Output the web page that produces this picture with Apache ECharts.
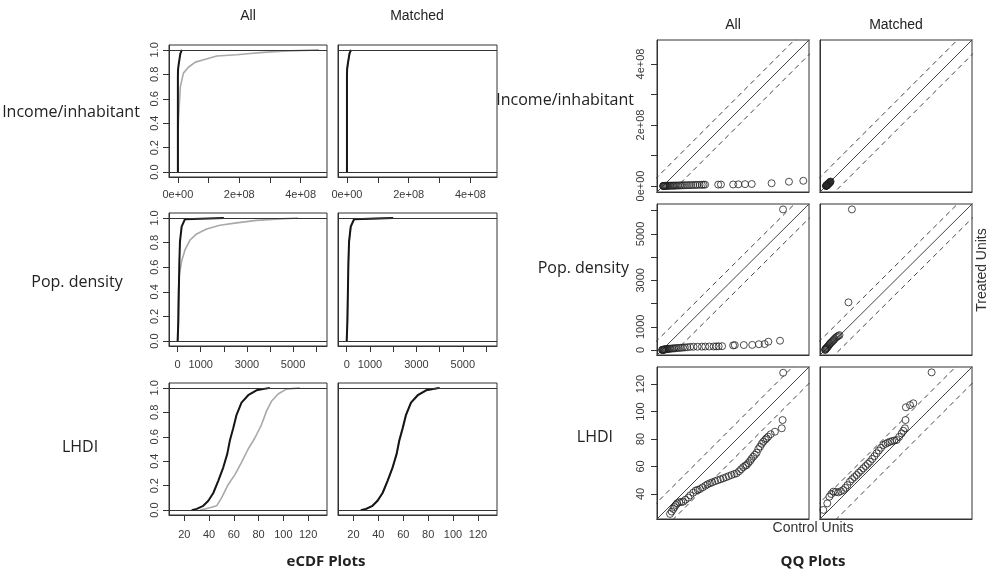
<!DOCTYPE html>
<html><head><meta charset="utf-8">
<script src="https://cdn.jsdelivr.net/npm/echarts@6/dist/echarts.min.js"></script>
<style>html,body{margin:0;padding:0;background:#fff}#c{width:989px;height:576px}</style>
</head><body><div id="c"></div>
<script>
// ---------- eCDF data (x values, cumulative proportion) ----------
const ecdfIncAllTreatedX = [0, 0, 500000, 3000000, 8000000, 13000000];
const ecdfIncAllTreatedF = [0, 0.78, 0.84, 0.89, 0.97, 1.0];
const ecdfIncAllControlX = [0, 0, 2e6, 8e6, 18e6, 35e6, 57e6, 84e6, 127e6, 192e6, 236e6, 279e6, 345e6, 459e6];
const ecdfIncAllControlF = [0, 0.29, 0.44, 0.70, 0.81, 0.86, 0.90, 0.92, 0.95, 0.96, 0.97, 0.98, 0.99, 1.0];
const ecdfIncMatTreatedX = [0, 0, 500000, 3000000, 8000000, 13000000];
const ecdfIncMatTreatedF = [0, 0.78, 0.84, 0.89, 0.97, 1.0];
const ecdfIncMatControlX = [0, 0, 1e6, 4e6, 9e6, 14e6];
const ecdfIncMatControlF = [0, 0.76, 0.85, 0.90, 0.97, 1.0];

const ecdfPopAllTreatedX = [0, 29, 72, 101, 173, 317, 2000];
const ecdfPopAllTreatedF = [0, 0.16, 0.63, 0.81, 0.93, 0.99, 1.0];
const ecdfPopAllControlX = [0, 30, 72, 173, 317, 533, 821, 1254, 1830, 2550, 3415, 4280, 5216];
const ecdfPopAllControlF = [0, 0.40, 0.54, 0.65, 0.74, 0.82, 0.87, 0.91, 0.94, 0.96, 0.98, 0.99, 1.0];
const ecdfPopMatTreatedX = [0, 29, 72, 101, 173, 317, 2000];
const ecdfPopMatTreatedF = [0, 0.16, 0.63, 0.81, 0.93, 0.99, 1.0];
const ecdfPopMatControlX = [0, 25, 70, 105, 180, 330, 2000];
const ecdfPopMatControlF = [0, 0.15, 0.62, 0.80, 0.93, 0.99, 1.0];

const ecdfLhdiAllTreatedX = [25.9, 30, 35.3, 39.4, 43.4, 47.4, 51.5, 54.7, 56.8, 59.5, 62.2, 66.2, 71.6, 78.3, 89.1];
const ecdfLhdiAllTreatedF = [0, 0.01, 0.035, 0.076, 0.14, 0.24, 0.35, 0.46, 0.57, 0.67, 0.78, 0.88, 0.94, 0.98, 1.0];
const ecdfLhdiAllControlX = [32.6, 40.7, 46.1, 50.1, 55.5, 60.9, 66.2, 71.6, 77.0, 82.4, 86.4, 90.4, 95.8, 102.5, 113.3];
const ecdfLhdiAllControlF = [0, 0.02, 0.035, 0.10, 0.21, 0.29, 0.39, 0.50, 0.59, 0.70, 0.81, 0.89, 0.95, 0.99, 1.0];
const ecdfLhdiMatTreatedX = [25.9, 30, 35.3, 39.4, 43.4, 47.4, 51.5, 54.7, 56.8, 59.5, 62.2, 66.2, 71.6, 78.3, 89.1];
const ecdfLhdiMatTreatedF = [0, 0.01, 0.035, 0.076, 0.14, 0.24, 0.35, 0.46, 0.57, 0.67, 0.78, 0.88, 0.94, 0.98, 1.0];
const ecdfLhdiMatControlX = [27, 31, 36, 40, 44, 48, 51.8, 55, 57, 59.8, 62.5, 66.5, 72, 79, 89.5];
const ecdfLhdiMatControlF = [0, 0.01, 0.04, 0.09, 0.15, 0.25, 0.36, 0.47, 0.57, 0.67, 0.78, 0.88, 0.94, 0.98, 1.0];

// ---------- QQ data (control quantile x, treated quantile y) ----------
const qqIncAllX = [0.5e6,1e6,2e6,3e6,5e6,7e6,9e6,11e6,14e6,17e6,20e6,24e6,28e6,32e6,36e6,40e6,45e6,50e6,55e6,60e6,66e6,72e6,78e6,85e6,92e6,99e6,106e6,112e6,120e6,127e6,133e6,138e6,181e6,190e6,230e6,247e6,269e6,291e6,356e6,413e6,460e6];
const qqIncAllY = [0,0,0.1e6,0.2e6,0.3e6,0.4e6,0.5e6,0.6e6,0.7e6,0.8e6,0.9e6,1.0e6,1.1e6,1.2e6,1.3e6,1.4e6,1.5e6,1.6e6,1.8e6,2.0e6,2.2e6,2.4e6,2.6e6,2.8e6,3.0e6,3.2e6,3.4e6,3.6e6,3.8e6,4.0e6,4.2e6,4.4e6,4.6e6,4.8e6,5.0e6,5.5e6,6.0e6,6.5e6,9e6,14e6,17e6];
const qqIncMatX = [0,0.5e6,1e6,1.5e6,2e6,2.5e6,3e6,3.5e6,4e6,5e6,6e6,7e6,8e6,9e6,10e6,11e6,12e6,13e6,14e6,15e6];
const qqIncMatY = [0,0.3e6,0.8e6,1.2e6,1.8e6,2.2e6,2.8e6,3.2e6,3.8e6,4.6e6,5.5e6,6.5e6,7.4e6,8.5e6,9.5e6,10.4e6,11.5e6,12.6e6,13.5e6,14.5e6];

const qqPopAllX = [5,15,30,50,70,90,115,140,170,200,240,280,330,380,440,500,570,640,720,800,890,980,1080,1206,1348,1520,1709,1851,2023,2209,2325,2424,2570,3044,3113,3500,3862,4146,4391,4550,5050,5179];
const qqPopAllY = [2,5,8,12,16,20,24,28,33,38,43,48,54,60,66,72,78,84,90,96,104,112,120,135,140,142,145,148,150,152,155,160,165,200,210,215,220,250,258,357,400,6057];
const qqPopMatX = [0,10,25,40,60,80,100,130,160,190,220,260,300,340,380,420,470,520,570,620,1003,1150];
const qqPopMatY = [0,20,40,60,80,100,130,160,200,240,280,320,360,400,440,490,540,580,610,640,2053,6057];

const qqLhdiAllX = [31.3,32.5,33.7,34.5,35.6,36.5,38.0,39.5,40.9,42.5,44.6,46.0,48.2,50.0,51.5,53.1,55.0,57.0,58.5,60.3,62.0,64.0,66.0,68.0,70.0,72.0,74.0,76.0,78.0,79.8,81.5,83.0,84.5,86.0,87.0,88.2,89.5,90.5,91.8,93.0,94.3,95.5,96.8,98.0,99.1,100.5,101.5,102.7,104.5,107.6,112.6,113.2,113.6];
const qqLhdiAllY = [25.5,27.2,29.1,30.5,32.0,33.2,34.0,34.2,34.4,35.8,37.3,39.0,41.0,42.5,43.0,43.6,44.8,46.0,47.0,47.8,48.5,49.3,50.0,50.7,51.4,52.2,53.0,53.8,54.5,55.1,56.5,58.0,59.5,60.5,61.1,62.5,64.0,65.5,67.1,68.5,70.0,72.7,74.5,76.5,78.0,79.5,80.5,81.7,83.5,85.3,87.8,93.8,128.2];
const qqLhdiMatX = [24.2,27.1,28.6,30.0,31.5,33.3,35.1,37.0,38.7,40.2,41.8,43.6,45.2,46.8,48.5,50.0,51.7,53.3,55.0,56.6,58.2,59.8,61.4,63.0,64.6,66.2,67.8,69.5,71.1,72.7,74.3,76.0,77.6,79.4,81.2,82.4,83.6,84.0,84.3,87.3,89.7,103.0];
const qqLhdiMatY = [28.4,33.2,38.0,40.0,41.7,41.5,41.2,42.0,42.9,44.5,46.5,49.0,50.8,52.3,53.8,55.5,57.0,58.7,60.3,61.9,63.5,65.5,67.5,69.6,71.6,73.6,75.6,76.5,77.3,78.0,78.5,78.9,79.3,81.5,84.1,86.0,87.8,93.8,103.1,104.7,106.0,128.5];

// ---------- axis ranges, ticks and labels ----------
const ecdfYRange = [-0.04, 1.04];
const ecdfYTicks = [0, 0.2, 0.4, 0.6, 0.8, 1.0];
const ecdfYLabels = ['0.0', '0.2', '0.4', '0.6', '0.8', '1.0'];

const ecdfIncXRange = [-0.29e8, 4.86e8];
const incTicks = [0, 1e8, 2e8, 3e8, 4e8];
const incLabelVals = [0, 2e8, 4e8];
const incLabels = ['0e+00', '2e+08', '4e+08'];

const ecdfPopXRange = [-375, 6470];
const popTicks = [0, 1000, 2000, 3000, 4000, 5000, 6000];
const popLabelVals = [0, 1000, 3000, 5000];
const popLabels = ['0', '1000', '3000', '5000'];

const ecdfLhdiXRange = [7.6, 135.3];
const lhdiXTicks = [20, 40, 60, 80, 100, 120];
const lhdiXLabels = ['20', '40', '60', '80', '100', '120'];

const qqIncRange = [-0.197e8, 4.787e8];
const qqPopRange = [-215, 6290];
const qqLhdiRange = [21.8, 132.4];
const qqLhdiTicks = [40, 60, 80, 100, 120];
const qqLhdiLabels = ['40', '60', '80', '100', '120'];
const qqBandOffsets = [0.48e8, 620, 12];

const rowNames = ['Income/inhabitant', 'Pop. density', 'LHDI'];
const colNames = ['All', 'Matched'];

// ---------- layout ----------
const ecdfColLeft = [169, 338], ecdfColWidth = [158, 159];
const ecdfRowTop = [45, 213, 383], ecdfRowHeight = [132, 133, 132];
const qqColLeft = [657, 820], qqColWidth = [152, 152];
const qqRowTop = [40, 204, 367], qqRowHeight = [152, 151, 152];

const FONT = '"Liberation Sans", Arial, sans-serif';
const LABFONT = '"Open Sans", "Noto Sans", sans-serif';
const BLACK = '#151515', GRAY = '#a9a9a9', AX = '#333';

function fmt(vals, labels) {
  return function (v) {
    for (let i = 0; i < vals.length; i++) {
      if (Math.abs(vals[i] - v) <= 1e-6 * Math.max(1, Math.abs(vals[i]))) return labels[i];
    }
    return '';
  };
}
function pairs(xs, ys) { return xs.map((x, i) => [x, ys[i]]); }

const grids = [], xAxes = [], yAxes = [], series = [];

function addGrid(left, top, width, height) {
  grids.push({ left, top, width, height, show: true, borderColor: AX, borderWidth: 1, backgroundColor: '#fff', containLabel: false });
  return grids.length - 1;
}
function valAxis(gi, range, ticks, labelVals, labels, showLabels, margin, rotate) {
  return {
    gridIndex: gi, type: 'value', min: range[0], max: range[1], scale: true,
    axisLine: { show: true, onZero: false, lineStyle: { color: AX, width: 1 } },
    splitLine: { show: false },
    axisTick: { show: !!ticks, length: 6, lineStyle: { color: AX, width: 1 }, customValues: ticks || [] },
    axisLabel: {
      show: !!showLabels, customValues: labelVals || [], formatter: labels ? fmt(labelVals, labels) : '',
      fontFamily: FONT, fontSize: 11, color: '#3a3a3a', margin: margin, rotate: rotate || 0
    }
  };
}

// eCDF panels
const ecdfRows = [
  { xr: ecdfIncXRange, xt: incTicks, xlv: incLabelVals, xl: incLabels,
    data: [[ecdfIncAllTreatedX, ecdfIncAllTreatedF, ecdfIncAllControlX, ecdfIncAllControlF],
           [ecdfIncMatTreatedX, ecdfIncMatTreatedF, ecdfIncMatControlX, ecdfIncMatControlF]] },
  { xr: ecdfPopXRange, xt: popTicks, xlv: popLabelVals, xl: popLabels,
    data: [[ecdfPopAllTreatedX, ecdfPopAllTreatedF, ecdfPopAllControlX, ecdfPopAllControlF],
           [ecdfPopMatTreatedX, ecdfPopMatTreatedF, ecdfPopMatControlX, ecdfPopMatControlF]] },
  { xr: ecdfLhdiXRange, xt: lhdiXTicks, xlv: lhdiXTicks, xl: lhdiXLabels,
    data: [[ecdfLhdiAllTreatedX, ecdfLhdiAllTreatedF, ecdfLhdiAllControlX, ecdfLhdiAllControlF],
           [ecdfLhdiMatTreatedX, ecdfLhdiMatTreatedF, ecdfLhdiMatControlX, ecdfLhdiMatControlF]] }
];
const ecdfXMargin = [12, 13, 14];
ecdfRows.forEach((r, ri) => {
  [0, 1].forEach(ci => {
    const gi = addGrid(ecdfColLeft[ci], ecdfRowTop[ri], ecdfColWidth[ci], ecdfRowHeight[ri]);
    const xa = valAxis(gi, r.xr, r.xt, r.xlv, r.xl, true, ecdfXMargin[ri], 0);
    xAxes.push(xa);
    const ya = valAxis(gi, ecdfYRange, ci === 0 ? ecdfYTicks : null, ecdfYTicks, ecdfYLabels, ci === 0, 9, 90);
    if (ci !== 0) { ya.axisTick.show = false; }
    yAxes.push(ya);
    const d = r.data[ci];
    series.push({
      type: 'line', xAxisIndex: gi, yAxisIndex: gi, data: pairs(d[2], d[3]), showSymbol: false, symbol: 'none',
      lineStyle: { color: GRAY, width: 1.6 }, z: 2, silent: true,
      markLine: { silent: true, symbol: ['none', 'none'], label: { show: false },
        lineStyle: { color: AX, type: 'solid', width: 1 }, data: [{ yAxis: 0 }, { yAxis: 1 }] }
    });
    series.push({
      type: 'line', xAxisIndex: gi, yAxisIndex: gi, data: pairs(d[0], d[1]), showSymbol: false, symbol: 'none',
      lineStyle: { color: BLACK, width: 2 }, z: 3, silent: true
    });
  });
});

// QQ panels
const qqRows = [
  { r: qqIncRange, t: incTicks, lv: incLabelVals, l: incLabels, data: [[qqIncAllX, qqIncAllY], [qqIncMatX, qqIncMatY]] },
  { r: qqPopRange, t: popTicks, lv: popLabelVals, l: popLabels, data: [[qqPopAllX, qqPopAllY], [qqPopMatX, qqPopMatY]] },
  { r: qqLhdiRange, t: qqLhdiTicks, lv: qqLhdiTicks, l: qqLhdiLabels, data: [[qqLhdiAllX, qqLhdiAllY], [qqLhdiMatX, qqLhdiMatY]] }
];
qqRows.forEach((r, ri) => {
  [0, 1].forEach(ci => {
    const gi = addGrid(qqColLeft[ci], qqRowTop[ri], qqColWidth[ci], qqRowHeight[ri]);
    const xa = valAxis(gi, r.r, null, null, null, false, 8, 0);
    xAxes.push(xa);
    const ya = valAxis(gi, r.r, ci === 0 ? r.t : null, r.lv, r.l, ci === 0, 11, 90);
    yAxes.push(ya);
    const lo = r.r[0], hi = r.r[1], off = qqBandOffsets[ri];
    [[0, 'solid'], [off, [5, 4]], [-off, [5, 4]]].forEach(([o, tp]) => {
      series.push({
        type: 'line', xAxisIndex: gi, yAxisIndex: gi, clip: true, silent: true,
        data: [[lo - Math.abs(off), lo - Math.abs(off) + o], [hi + Math.abs(off), hi + Math.abs(off) + o]],
        showSymbol: false, symbol: 'none', lineStyle: { color: '#444', width: 1, type: tp }, z: 2
      });
    });
    const d = r.data[ci];
    series.push({
      type: 'scatter', xAxisIndex: gi, yAxisIndex: gi, data: pairs(d[0], d[1]), symbol: 'circle', symbolSize: 7,
      itemStyle: { color: 'rgba(0,0,0,0)', borderColor: '#222', borderWidth: 1 }, z: 3, silent: true, clip: false
    });
  });
});

function txt(x, y, text, opt) {
  return Object.assign({ type: 'text', x: x, y: y, silent: true,
    style: Object.assign({ text: text, fill: '#222', font: '14px ' + FONT, textAlign: 'center', textVerticalAlign: 'middle' }, opt && opt.style || {}) },
    opt && opt.extra || {});
}
const graphics = [
  txt(248, 16, colNames[0]), txt(417, 16, colNames[1]),
  txt(733, 25, colNames[0]), txt(896, 25, colNames[1]),
  txt(71, 112, rowNames[0], { style: { font: '16px ' + LABFONT } }),
  txt(77, 282, rowNames[1], { style: { font: '16px ' + LABFONT } }),
  txt(80, 447, rowNames[2], { style: { font: '16px ' + LABFONT } }),
  txt(634, 100, rowNames[0], { style: { font: '16px ' + LABFONT, textAlign: 'right' } }),
  txt(629, 268, rowNames[1], { style: { font: '16px ' + LABFONT, textAlign: 'right' } }),
  txt(613, 437, rowNames[2], { style: { font: '16px ' + LABFONT, textAlign: 'right' } }),
  txt(813, 528, 'Control Units', { style: { font: '14px ' + FONT, fill: '#333' } }),
  { type: 'text', x: 982, y: 270, rotation: Math.PI / 2, silent: true,
    style: { text: 'Treated Units', fill: '#333', font: '14px ' + FONT, textAlign: 'center', textVerticalAlign: 'middle' } },
  txt(326, 562, 'eCDF Plots', { style: { font: 'bold 15px ' + LABFONT } }),
  txt(813, 562, 'QQ Plots', { style: { font: 'bold 15px ' + LABFONT } })
];

const chart = echarts.init(document.getElementById('c'), null, { renderer: 'canvas' });
chart.setOption({
  animation: false,
  backgroundColor: '#fff',
  grid: grids, xAxis: xAxes, yAxis: yAxes, series: series,
  graphic: { elements: graphics }
});
</script>
</body></html>
